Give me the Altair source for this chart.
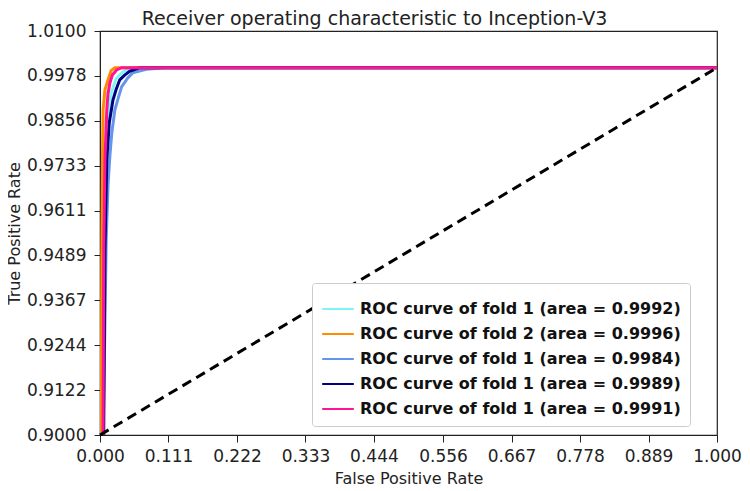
import altair as alt
import pandas as pd

labels = [
    "ROC curve of fold 1 (area = 0.9992)",
    "ROC curve of fold 2 (area = 0.9996)",
    "ROC curve of fold 1 (area = 0.9984)",
    "ROC curve of fold 1 (area = 0.9989)",
    "ROC curve of fold 1 (area = 0.9991)",
]
colors = ["#7ff5f5", "#ff8c00", "#6495ed", "#000080", "#ff1493"]

fpr_aqua = [0.004, 0.006, 0.009, 0.013, 0.018, 0.026, 0.038, 0.055, 1.0]
tpr_aqua = [0.900, 0.950, 0.975, 0.987, 0.993, 0.997, 0.999, 1.000, 1.0]

fpr_orange = [0.002, 0.003, 0.004, 0.005, 0.008, 0.013, 0.018, 0.024, 1.0]
tpr_orange = [0.900, 0.950, 0.975, 0.9885, 0.994, 0.9967, 0.9992, 1.000, 1.0]

fpr_blue = [0.005, 0.008, 0.010, 0.013, 0.016, 0.019, 0.024, 0.030, 0.035, 0.045, 0.053, 0.075, 0.105, 1.0]
tpr_blue = [0.900, 0.930, 0.953, 0.968, 0.976, 0.982, 0.9885, 0.992, 0.9948, 0.9972, 0.9986, 0.9996, 1.000, 1.0]

fpr_navy = [0.006, 0.008, 0.011, 0.015, 0.021, 0.026, 0.032, 0.040, 0.048, 0.064, 1.0]
tpr_navy = [0.900, 0.950, 0.975, 0.985, 0.9912, 0.994, 0.9967, 0.998, 0.999, 1.000, 1.0]

fpr_pink = [0.005, 0.006, 0.008, 0.011, 0.013, 0.016, 0.020, 0.027, 0.035, 1.0]
tpr_pink = [0.900, 0.950, 0.975, 0.9885, 0.993, 0.9958, 0.998, 0.9994, 1.000, 1.0]

diag_x = [0.0, 1.0]
diag_y = [0.9, 1.0]

x_ticks = [0.0, 0.111, 0.222, 0.333, 0.444, 0.556, 0.667, 0.778, 0.889, 1.0]
y_ticks = [0.9000, 0.9122, 0.9244, 0.9367, 0.9489, 0.9611, 0.9733, 0.9856, 0.9978, 1.0100]

series = [(fpr_aqua, tpr_aqua), (fpr_orange, tpr_orange), (fpr_blue, tpr_blue),
          (fpr_navy, tpr_navy), (fpr_pink, tpr_pink)]
rows = []
for i, (xs, ys) in enumerate(series):
    for j, (a, b) in enumerate(zip(xs, ys)):
        rows.append({"fpr": a, "tpr": b, "curve": labels[i], "k": i, "o": j})
df = pd.DataFrame(rows)
diag = pd.DataFrame({"fpr": diag_x, "tpr": diag_y})

font = "DejaVu Sans"

xenc = alt.X("fpr:Q", scale=alt.Scale(domain=[0, 1], nice=False, zero=False),
             axis=alt.Axis(values=x_ticks, format=".3f", title="False Positive Rate",
                           grid=False, tickSize=7, labelPadding=6, titlePadding=6,
                           labelFontSize=17, titleFontSize=16, labelFont=font, titleFont=font,
                           titleFontWeight="normal", domainColor="#222", tickColor="#222",
                           labelColor="#222", titleColor="#222", labelFlush=False))
yenc = alt.Y("tpr:Q", scale=alt.Scale(domain=[0.9, 1.01], nice=False, zero=False),
             axis=alt.Axis(values=y_ticks, format=".4f", title="True Positive Rate",
                           grid=False, tickSize=6, labelPadding=8, titlePadding=4,
                           labelFontSize=17, titleFontSize=16, labelFont=font, titleFont=font,
                           titleFontWeight="normal", domainColor="#222", tickColor="#222",
                           labelColor="#222", titleColor="#222", labelFlush=False))

lines = alt.Chart(df).mark_line(strokeWidth=3, clip=True).encode(
    x=xenc,
    y=yenc,
    color=alt.Color("curve:N", scale=alt.Scale(domain=labels, range=colors),
                    legend=alt.Legend(title=None, orient="none", legendX=212, legendY=252,
                                      symbolType="stroke", symbolSize=1000, symbolStrokeWidth=2,
                                      labelFontSize=16, labelFont=font, labelFontWeight="bold",
                                      labelColor="#111", labelLimit=500, labelOffset=5,
                                      rowPadding=0, padding=9, fillColor="white",
                                      strokeColor="#cccccc", cornerRadius=3)),
    detail="k:N",
    order="o:Q",
)

diag_line = alt.Chart(diag).mark_line(color="black", strokeWidth=3, strokeDash=[10, 6]).encode(
    x="fpr:Q", y="tpr:Q"
)

chart = alt.layer(lines, diag_line).properties(
    width=617, height=404,
    title=alt.TitleParams("Receiver operating characteristic to Inception-V3", fontSize=19,
                          font=font, fontWeight="normal", color="#222", offset=0, dx=-34, dy=7),
    autosize=alt.AutoSizeParams(type="none"),
    padding={"left": 92, "top": 23, "right": 25, "bottom": 56},
).configure_view(stroke="#222", strokeWidth=1.2)

chart.save("out.html", embed_options={"renderer": "svg", "actions": False})
